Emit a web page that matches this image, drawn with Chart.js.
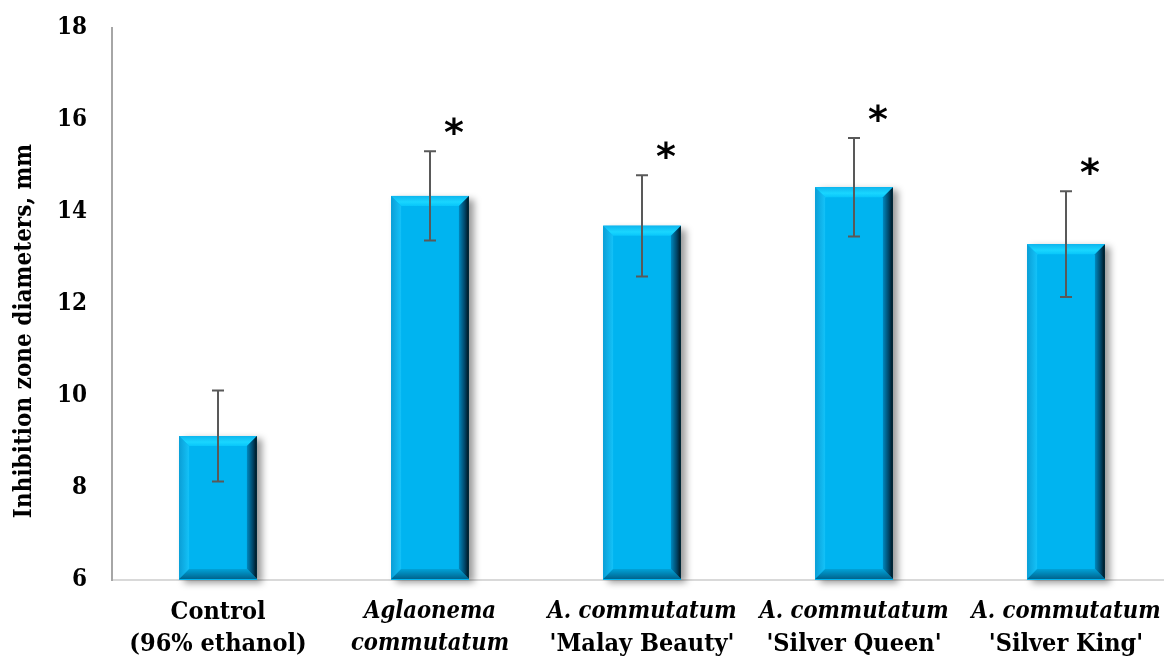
<!DOCTYPE html>
<html>
<head>
<meta charset="utf-8">
<script src="https://cdn.jsdelivr.net/npm/chart.js@4.4.1/dist/chart.umd.min.js"></script>
<style>
  html, body { margin: 0; padding: 0; background: #fff; overflow: hidden; }
  #wrap { width: 1180px; height: 657px; }
</style>
</head>
<body>
<div id="wrap"><canvas id="zoneChart"></canvas></div>
<script>
// categories: first line / second line, and which line is italic
const labelTop = ['Control', 'Aglaonema', 'A. commutatum', 'A. commutatum', 'A. commutatum'];
const labelBottom = ['(96% ethanol)', 'commutatum', "'Malay Beauty'", "'Silver Queen'", "'Silver King'"];
const topItalic = [false, true, true, true, true];
const bottomItalic = [false, true, false, false, false];

// mean inhibition zone (mm) and error (+/-)
const means = [9.13, 14.35, 13.7, 14.54, 13.3];
const errors = [0.99, 0.97, 1.1, 1.07, 1.15];
const significant = [false, true, true, true, true];

const yTicks = [6, 8, 10, 12, 14, 16, 18];
const yTitle = 'Inhibition zone diameters, mm';

const FONT = '"DejaVu Serif Condensed", "DejaVu Serif", serif';

// bevel look for the bars + shadow
const bevelPlugin = {
  id: 'bevel',
  beforeDatasetsDraw(chart) {
    const ctx = chart.ctx;
    const bottom = chart.chartArea.bottom;
    chart.getDatasetMeta(0).data.forEach(bar => {
      const l = bar.x - bar.width / 2, t = bar.y;
      ctx.save();
      ctx.shadowColor = 'rgba(0,0,0,0.4)';
      ctx.shadowBlur = 7;
      ctx.shadowOffsetX = 5;
      ctx.shadowOffsetY = 3;
      ctx.fillStyle = '#00b0ec';
      ctx.fillRect(l, t, bar.width, bottom - t);
      ctx.restore();
    });
  },
  afterDatasetsDraw(chart) {
    const ctx = chart.ctx;
    const b = 10;
    const bottom = chart.chartArea.bottom;
    chart.getDatasetMeta(0).data.forEach(bar => {
      const l = bar.x - bar.width / 2, r = bar.x + bar.width / 2;
      const t = bar.y, bt = bottom - 1;
      const poly = (pts, fill) => {
        ctx.beginPath();
        ctx.moveTo(pts[0][0], pts[0][1]);
        pts.slice(1).forEach(p => ctx.lineTo(p[0], p[1]));
        ctx.closePath();
        ctx.fillStyle = fill;
        ctx.fill();
      };
      ctx.save();
      let g = ctx.createLinearGradient(0, t, 0, t + b);
      g.addColorStop(0, '#0fb6ee'); g.addColorStop(0.6, '#19d6ff'); g.addColorStop(1, '#08c6fa');
      poly([[l, t], [r, t], [r - b, t + b], [l + b, t + b]], g);
      g = ctx.createLinearGradient(l, 0, l + b, 0);
      g.addColorStop(0, '#0a9ed6'); g.addColorStop(1, '#14c2f8');
      poly([[l, t], [l + b, t + b], [l + b, bt - b], [l, bt]], g);
      g = ctx.createLinearGradient(r - b, 0, r, 0);
      g.addColorStop(0, '#0088be'); g.addColorStop(0.6, '#004466'); g.addColorStop(1, '#00121a');
      poly([[r, t], [r, bt], [r - b, bt - b], [r - b, t + b]], g);
      g = ctx.createLinearGradient(0, bt - b, 0, bt);
      g.addColorStop(0, '#00a2d8'); g.addColorStop(1, '#00648e');
      poly([[l, bt], [r, bt], [r - b, bt - b], [l + b, bt - b]], g);
      ctx.restore();
    });
  }
};

// error bars, asterisks, axis title and the two-style category labels
const extrasPlugin = {
  id: 'extras',
  afterDraw(chart) {
    const ctx = chart.ctx;
    const y = chart.scales.y, x = chart.scales.x;
    ctx.save();
    means.forEach((m, i) => {
      const cx = x.getPixelForValue(i);
      const hi = y.getPixelForValue(m + errors[i]);
      const lo = y.getPixelForValue(m - errors[i]);
      ctx.strokeStyle = '#595959';
      ctx.lineWidth = 2;
      ctx.beginPath();
      ctx.moveTo(cx, hi); ctx.lineTo(cx, lo);
      ctx.moveTo(cx - 6, hi); ctx.lineTo(cx + 6, hi);
      ctx.moveTo(cx - 6, lo); ctx.lineTo(cx + 6, lo);
      ctx.stroke();
      if (significant[i]) {
        ctx.fillStyle = '#000';
        ctx.font = 'bold 38px "DejaVu Sans", sans-serif';
        ctx.textAlign = 'center';
        ctx.textBaseline = 'middle';
        ctx.fillText('*', cx + 24, hi - 16);
      }
      ctx.fillStyle = '#000';
      ctx.textAlign = 'center';
      ctx.textBaseline = 'middle';
      ctx.font = (topItalic[i] ? 'italic bold 23.5px ' : 'bold 25px ') + FONT;
      ctx.fillText(labelTop[i], cx, 612);
      ctx.font = (bottomItalic[i] ? 'italic bold 23.5px ' : 'bold 25px ') + FONT;
      ctx.fillText(labelBottom[i], cx, 644);
    });
    // y axis title (sits a bit below the axis middle in the original)
    ctx.translate(25, 331);
    ctx.rotate(-Math.PI / 2);
    ctx.font = 'bold 24px ' + FONT;
    ctx.fillText(yTitle, 0, 0);
    ctx.restore();
  }
};

new Chart(document.getElementById('zoneChart'), {
  type: 'bar',
  data: {
    labels: labelTop,
    datasets: [{
      data: means,
      backgroundColor: '#00b4f0',
      barPercentage: 0.367,
      categoryPercentage: 1
    }]
  },
  plugins: [bevelPlugin, extrasPlugin],
  options: {
    responsive: true,
    maintainAspectRatio: false,
    animation: false,
    layout: { padding: { top: 28, right: 8, left: 0, bottom: 0 } },
    plugins: { legend: { display: false }, tooltip: { enabled: false } },
    scales: {
      x: {
        grid: { display: false, drawTicks: false },
        border: { color: '#d9d9d9', width: 2 },
        ticks: { display: false },
        afterFit: s => { s.height = 77; }
      },
      y: {
        min: 6, max: 18,
        afterBuildTicks: s => { s.ticks = yTicks.map(v => ({ value: v })); },
        grid: { display: false, drawTicks: false },
        border: { color: '#a6a6a6', width: 2 },
        ticks: { color: '#000', padding: 25, font: { family: FONT, size: 24, weight: 'bold' } },
        afterFit: s => { s.width = 112; s.paddingTop = 0; s.paddingBottom = 0; }
      }
    }
  }
});
</script>
</body>
</html>
